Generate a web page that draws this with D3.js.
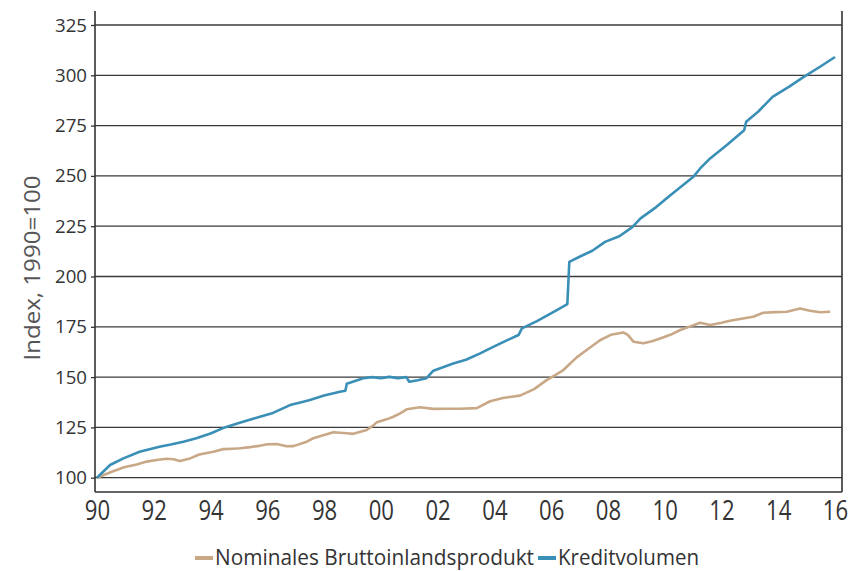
<!DOCTYPE html>
<html>
<head>
<meta charset="utf-8">
<script src="https://cdn.jsdelivr.net/npm/d3@7"></script>
<style>
  html, body { margin: 0; padding: 0; background: #fff; }
  svg { display: block; font-family: "Open Sans", sans-serif; }
</style>
</head>
<body>
<svg id="chart" width="861" height="571"></svg>
<script>
// ---- Data ----
const seriesNames = ["Nominales Bruttoinlandsprodukt", "Kreditvolumen"];
const seriesColors = ["#c9a888", "#3a8fb7"];

const gdpYears = [1990, 1990.5, 1990.95, 1991.4, 1991.75, 1992.1, 1992.45, 1992.7, 1992.92, 1993.28, 1993.6, 1994.1, 1994.45, 1994.8, 1995.04, 1995.4, 1995.7, 1996.0, 1996.33, 1996.68, 1996.92, 1997.39, 1997.62, 1998.0, 1998.33, 1998.8, 1999.03, 1999.5, 1999.74, 1999.86, 2000.2, 2000.44, 2000.68, 2000.91, 2001.38, 2001.85, 2002.3, 2002.79, 2003.38, 2003.85, 2004.3, 2004.9, 2005.4, 2005.84, 2006.2, 2006.43, 2006.9, 2007.3, 2007.72, 2008.1, 2008.54, 2008.7, 2008.9, 2009.25, 2009.55, 2009.84, 2010.2, 2010.55, 2010.9, 2011.25, 2011.6, 2012.0, 2012.3, 2012.7, 2013.12, 2013.47, 2013.9, 2014.3, 2014.77, 2015.12, 2015.47, 2015.83];
const gdpValues = [100, 102.8, 105.2, 106.6, 108, 108.8, 109.4, 109.2, 108.3, 109.6, 111.5, 112.9, 114.2, 114.4, 114.6, 115.2, 115.8, 116.6, 116.7, 115.6, 115.7, 117.9, 119.6, 121.2, 122.6, 122.1, 121.8, 123.7, 126.0, 127.6, 129.0, 130.3, 132.0, 134.0, 135.0, 134.2, 134.3, 134.3, 134.6, 138.0, 139.6, 140.8, 144.0, 148.5, 151.5, 153.5, 159.8, 164.0, 168.3, 171.0, 172.2, 171.0, 167.6, 166.8, 167.8, 169.2, 171.0, 173.4, 175.2, 177.0, 175.9, 177.0, 178.0, 179.0, 180.0, 182.0, 182.3, 182.5, 184.1, 183.0, 182.2, 182.5];

const creditYears = [1990, 1990.46, 1990.93, 1991.5, 1992.2, 1992.6, 1993.04, 1993.5, 1994.0, 1994.5, 1995.0, 1995.74, 1996.2, 1996.8, 1997.2, 1997.5, 1998.0, 1998.56, 1998.75, 1998.8, 1999.38, 1999.7, 2000.0, 2000.3, 2000.6, 2000.9, 2001.0, 2001.3, 2001.6, 2001.85, 2002.55, 2003.0, 2003.5, 2003.85, 2004.4, 2004.85, 2004.97, 2005.5, 2006.2, 2006.57, 2006.64, 2007.0, 2007.45, 2007.9, 2008.4, 2008.85, 2009.15, 2009.7, 2010.2, 2011.0, 2011.25, 2011.6, 2012.2, 2012.8, 2012.87, 2013.3, 2013.8, 2014.4, 2014.9, 2015.5, 2016.0];
const creditValues = [100, 106.3, 109.6, 112.9, 115.4, 116.5, 117.9, 119.6, 122.0, 125.0, 127.2, 130.3, 132.2, 136.1, 137.5, 138.6, 140.8, 142.7, 143.2, 146.7, 149.4, 150.0, 149.5, 150.1, 149.5, 150.0, 147.7, 148.4, 149.4, 153.2, 156.8, 158.6, 161.8, 164.3, 168.0, 170.9, 174.2, 177.8, 183.3, 186.3, 207.3, 209.8, 212.8, 217.2, 220.0, 224.4, 228.9, 234.5, 240.4, 249.4, 253.7, 258.7, 265.5, 272.7, 276.9, 282.0, 289.3, 294.5, 299.2, 304.5, 309.1];

const yTicks = [100, 125, 150, 175, 200, 225, 250, 275, 300, 325];
const xTicks = [1990, 1992, 1994, 1996, 1998, 2000, 2002, 2004, 2006, 2008, 2010, 2012, 2014, 2016];
const yTitle = "Index, 1990=100";

// ---- Layout ----
const svg = d3.select("#chart");
const plotL = 95, plotR = 842, plotT = 11, plotB = 492;

const x = d3.scaleLinear().domain([1990, 2016]).range([97, 835]);
const y = d3.scaleLinear().domain([100, 325]).range([477.7, 25]);

// y axis ticks + labels
const yAxis = d3.axisLeft(y).tickValues(yTicks).tickSize(4).tickPadding(3)
  .tickFormat(d3.format("d"));
const gy = svg.append("g").attr("transform", `translate(${plotL},0)`).call(yAxis);
gy.select(".domain").remove();
gy.selectAll(".tick line").attr("stroke", "#333").attr("stroke-width", 1.3);
gy.selectAll(".tick text").attr("fill", "#333").attr("font-size", 19)
  .attr("font-family", "'Open Sans', sans-serif").attr("dx", -1)
  .attr("textLength", 32).attr("lengthAdjust", "spacingAndGlyphs");

// gridlines
svg.append("g").selectAll("line").data(yTicks).join("line")
  .attr("x1", plotL).attr("x2", plotR)
  .attr("y1", d => y(d)).attr("y2", d => y(d))
  .attr("stroke", "#3a3a3a").attr("stroke-width", 1.3);

// frame: left, right, bottom
svg.append("line").attr("x1", plotL).attr("x2", plotL).attr("y1", plotT).attr("y2", plotB)
  .attr("stroke", "#333").attr("stroke-width", 1.6);
svg.append("line").attr("x1", plotR).attr("x2", plotR).attr("y1", plotT).attr("y2", plotB)
  .attr("stroke", "#333").attr("stroke-width", 1.6);
svg.append("line").attr("x1", plotL).attr("x2", plotR).attr("y1", plotB).attr("y2", plotB)
  .attr("stroke", "#333").attr("stroke-width", 1.6);

// x axis labels
const xAxis = d3.axisBottom(x).tickValues(xTicks).tickSize(0).tickPadding(0)
  .tickFormat(d => String(d % 100).padStart(2, "0"));
const gx = svg.append("g").attr("transform", `translate(0,${plotB})`).call(xAxis);
gx.select(".domain").remove();
gx.selectAll(".tick text")
  .attr("fill", "#333").attr("font-size", 27).attr("font-family", "'Open Sans', sans-serif")
  .attr("dy", 0).attr("y", 0)
  .attr("transform", "translate(0,28) scale(0.82,1)");

// lines
const line = d3.line().x(d => x(d[0])).y(d => y(d[1]));
const gdpData = d3.zip(gdpYears, gdpValues);
const creditData = d3.zip(creditYears, creditValues);

svg.append("path").datum(gdpData).attr("d", line)
  .attr("fill", "none").attr("stroke", seriesColors[0]).attr("stroke-width", 2.6)
  .attr("stroke-linejoin", "round");
svg.append("path").datum(creditData).attr("d", line)
  .attr("fill", "none").attr("stroke", seriesColors[1]).attr("stroke-width", 2.6)
  .attr("stroke-linejoin", "round");

// y title
svg.append("text")
  .attr("transform", "translate(40,268) rotate(-90)")
  .attr("text-anchor", "middle")
  .attr("fill", "#555").attr("font-size", 21)
  .attr("textLength", 185).attr("lengthAdjust", "spacingAndGlyphs")
  .text(yTitle);

// legend
const legend = svg.append("g").attr("transform", "translate(0,565)");
const legendX = [195, 538];
seriesNames.forEach((name, i) => {
  legend.append("rect").attr("x", legendX[i]).attr("y", -9).attr("width", 18).attr("height", 4)
    .attr("fill", seriesColors[i]);
  legend.append("text").attr("x", legendX[i] + 20).attr("y", 0)
    .attr("fill", "#333").attr("font-size", 21)
    .attr("textLength", i === 0 ? 319 : 141).attr("lengthAdjust", "spacingAndGlyphs")
    .text(name);
});
</script>
</body>
</html>
